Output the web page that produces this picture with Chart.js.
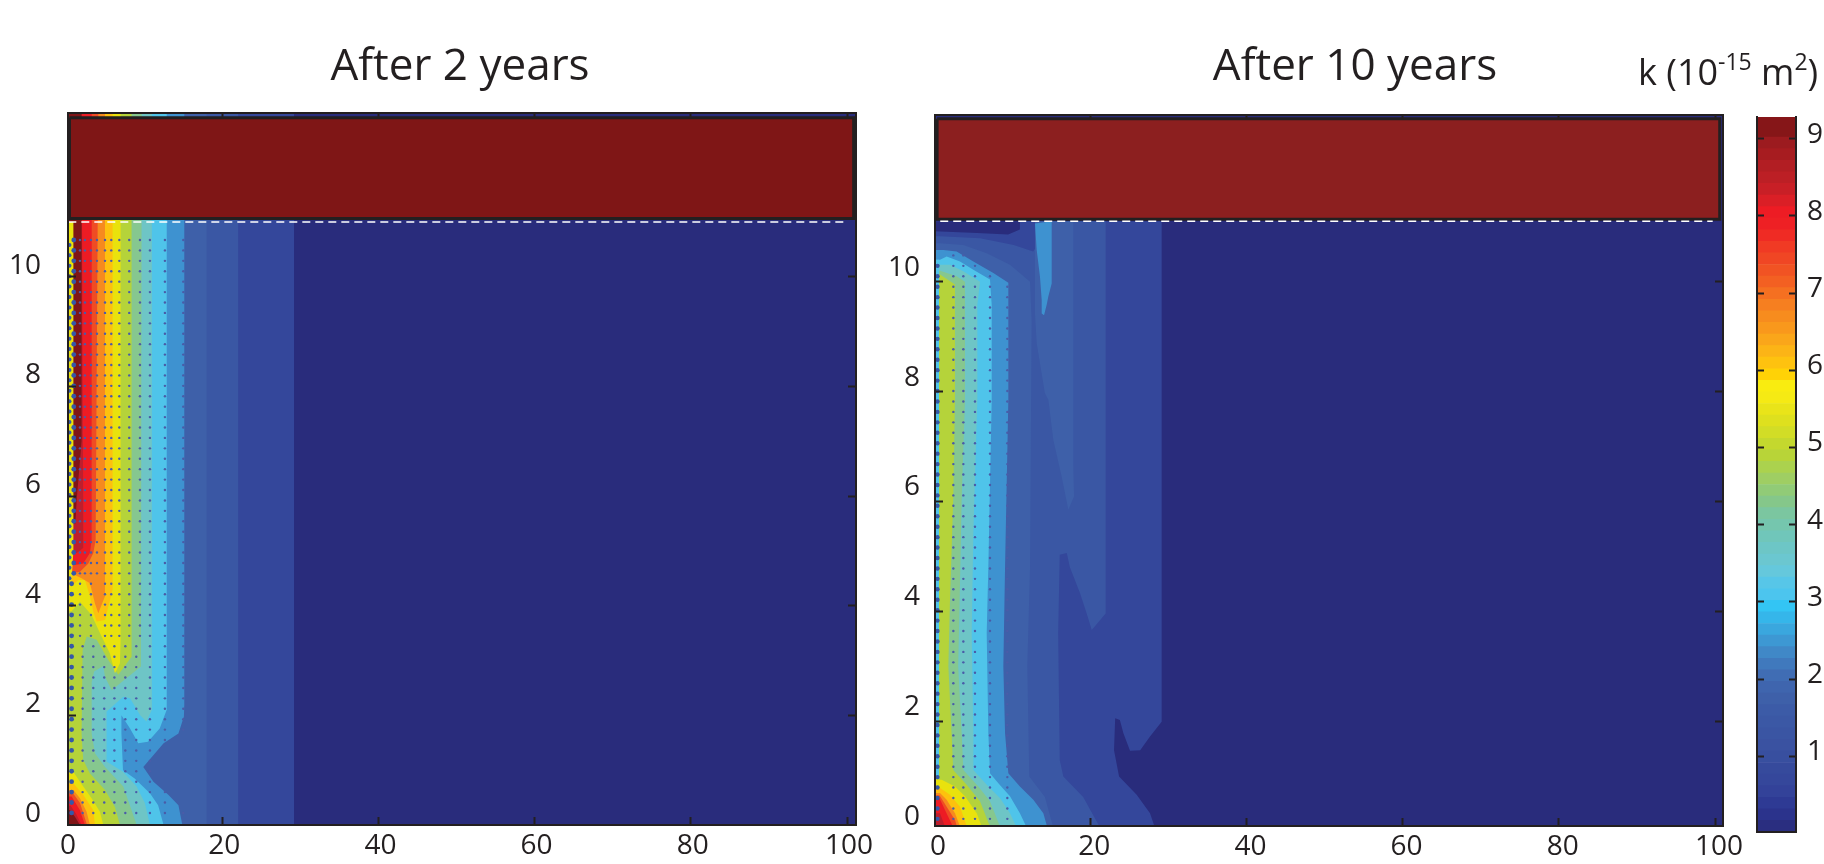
<!DOCTYPE html>
<html lang="en">

<head>
    <meta charset="UTF-8">
    <title>Permeability after 2 and 10 years</title>
    <script src="https://cdn.jsdelivr.net/npm/chart.js"></script>
    <style>
        body { margin: 0; background: #fff; width: 1824px; height: 864px; overflow: hidden; }
        canvas { position: absolute; top: 0; }
        #left-chart { left: 0; }
        #right-chart { left: 886px; }
        #bar-chart { left: 1634px; }
    </style>
</head>

<body>
    <canvas id="left-chart" width="920" height="864"></canvas>
    <canvas id="right-chart" width="938" height="864"></canvas>
    <canvas id="bar-chart" width="190" height="864"></canvas>

    <script>
        // axis ticks
        const xTicks = [0, 20, 40, 60, 80, 100];
        const yTicks = [0, 2, 4, 6, 8, 10];
        const barTicks = [1, 2, 3, 4, 5, 6, 7, 8, 9];
        const titles = ['After 2 years', 'After 10 years'];
        const barTitle = [['k (10', 0], ['-15', 1], [' m', 0], ['2', 1], [')', 0]];

        // contour colours, low k to high k
        const cBlue1 = '#34479B', cBlue2 = '#3A57A4', cBlue3 = '#3E60A9', cBlue4 = '#3E92D0';
        const cSky = '#4FC4EA', cTeal = '#6EC5C6', cGreen = '#86C78F', cLime = '#B5D33A';
        const cYellow = '#E9E20D', cAmber = '#FDC10E', cOrange = '#F68A1F', cRedOrange = '#EF4C24';
        const cRed = '#ED1C24', cCrimson = '#BE1E2D', cMaroon = '#7F1517', cNavy = '#292C7C';

        // after 2 years: right edge of each contour level, top to bottom, as [distance, depth]
        const left1 = [[29.2, 13], [29.2, 0]];
        const left2 = [[22.05, 13], [22.05, 0]];
        const left3 = [[18, 13], [18, 0]];
        const left4 = [[15.15, 13], [15.15, 2.2], [15.1, 1.98], [14.4, 1.67], [12.5, 1.49], [9.9, 1.06], [11.2, 0.79], [13.1, 0.55], [14.4, 0.36], [14.9, 0]];
        const left5 = [[12.9, 13], [12.9, 2.1], [12, 1.76], [10.5, 1.52], [9.26, 1.49], [8.2, 1.76], [7.1, 2], [7.1, 1.67], [7.3, 1], [8.8, 0.85], [10.75, 0.58], [11.8, 0.36], [12.5, 0]];
        const left6 = [[11, 13], [11, 2.1], [10.3, 1.89], [9.5, 2], [8.2, 2.31], [7.34, 2.34], [5.2, 2.07], [5.2, 1.16], [7.3, 0.97], [9.05, 0.7], [10.1, 0.4], [10.75, 0]];
        const left7 = [[9.7, 13], [9.6, 2.89], [7.77, 2.68], [5.85, 2.46], [5, 2.7], [4.78, 2.9], [3.6, 2.8], [3.29, 2.6], [3.29, 1.67], [3.71, 1.31], [5, 1.06], [7.34, 0.7], [8.4, 0.27], [9.05, 0]];
        const left8 = [[8.4, 13], [8.4, 3.07], [6.7, 2.74], [5.42, 3.01], [3.93, 3.38], [2.65, 3.44], [2.13, 3.19], [2, 1.67], [2.2, 1.19], [3.07, 0.94], [5, 0.64], [6.27, 0.33], [6.91, 0]];
        const left9 = [[7, 13], [7, 3.38], [6.91, 2.95], [6.27, 2.77], [5.63, 3.13], [4.35, 3.5], [3.28, 3.83], [1.79, 4.07], [0.72, 3.9], [0, 3.9], [0, 0.97], [0.94, 0.97], [1.79, 0.79], [3.28, 0.49], [4.35, 0.24], [4.78, 0]];
        const left10 = [[5.97, 13], [5.97, 4.29], [5, 3.74], [3.93, 3.71], [3.5, 3.89], [3.07, 4.17], [2.43, 4.47], [1.58, 4.47], [0.94, 4.38], [0, 4.38], [0, 0.76], [0.94, 0.76], [2.2, 0.55], [3.5, 0.27], [3.71, 0]];
        const left11 = [[5, 13], [5, 4.17], [4.14, 3.86], [3.71, 4.04], [3.07, 4.41], [2, 4.5], [1.15, 4.56], [0, 4.56], [0, 0.64], [0.94, 0.64], [1.79, 0.49], [2.64, 0.24], [3.07, 0]];
        const left12 = [[4.15, 13], [3.8, 5.2], [3.5, 4.96], [2.86, 4.77], [1.79, 4.62], [1.15, 4.6], [0, 4.6], [0, 0.58], [0.9, 0.58], [1.8, 0.4], [2.7, 0]];
        const left13 = [[3.3, 13], [3.28, 5.2], [3.07, 4.96], [2.2, 4.77], [1.15, 4.74], [0, 4.74], [0, 0.52], [0.72, 0.52], [1.79, 0.27], [2.43, 0]];
        const left14 = [[2, 13], [2.2, 6], [2.2, 5.05], [1.36, 4.96], [0.72, 4.96], [0, 4.96], [0, 0.35], [0.6, 0.35], [1.3, 0.2], [2, 0]];
        const left15 = [[2, 13], [2, 7], [1.37, 5.93], [1.2, 5.5], [0, 5.5], [0, 0.27], [0.51, 0.27], [1.15, 0.15], [1.79, 0]];
        const leftWall = [[0.95, 11], [0.95, 5], [0.7, 4.4], [0, 4.4]];
        const leftCap = [[0.45, 12.9], [100.85, 12.9], [100.85, 11.06], [0.45, 11.06], [0.45, 12.9]];
        const leftDash = [[0.3, 11], [100, 11]];
        const leftColumns = [1.79, 2.43, 3.2, 3.97, 5, 5.8, 6.83, 8.1, 9.47, 10.75, 12.67, 15.02];
        const leftMidColumns = [1.8, 3.2, 5, 5.8, 6.83, 8.1, 9.47, 10.75, 12.67, 15.02];
        const leftLowColumns = [2.13, 3.5, 4.9, 6.2, 7.6, 9, 10.75, 12.67, 15.02];

        // after 10 years
        const right1 = [[29.15, 11.1], [29.15, 1.99], [27.66, 1.72], [26.4, 1.47], [25.1, 1.46], [24.25, 1.78], [23.8, 2.02], [23.2, 2.05], [23.05, 1.47], [23.7, 0.99], [25.95, 0.66], [27.66, 0.32], [28.43, 0]];
        const right2 = [[21.98, 11.1], [21.98, 3.96], [20.2, 3.66], [19.55, 3.96], [18.7, 4.33], [17.4, 4.8], [17, 5.06], [16.1, 5.03], [15.9, 3.6], [16.1, 1.29], [16.56, 0.99], [19.1, 0.62], [21.5, 0]];
        const rightLens = [[17.84, 11.1], [17.84, 6.64], [17.93, 6.09], [17.2, 5.85], [16.35, 6.45], [15.28, 7.12], [14.64, 7.85], [14.2, 7.97], [13.15, 8.88], [12.93, 9.42], [12.93, 11.1]];
        const right3 = [[0.77, 10.7], [3.76, 10.67], [6.75, 10.52], [9.73, 10.31], [12.3, 10], [12.5, 9.3], [12.3, 4.81], [11.95, 3], [12.2, 0.99], [14.2, 0.62], [15.4, 0]];
        const rightTop = [[0, 11.1], [12.93, 11.1], [12.93, 10.6], [12.7, 10.55], [10.2, 10.67], [5.9, 10.79], [0.77, 10.83], [0, 10.83]];
        const rightNavy = [[0, 11.1], [11, 11.1], [11, 10.95], [9.5, 10.86], [5.5, 10.89], [0, 10.92]];
        const rightTongue = [[15.07, 11.1], [15.07, 9.97], [14.64, 9.73], [14.43, 9.58], [14.09, 9.39], [13.79, 9.42], [13.79, 9.67], [13.57, 10.09], [13.15, 10.58], [12.93, 11.06]];
        const right4 = [[1.2, 10.58], [2.9, 10.55], [5.04, 10.37], [7.6, 10.16], [9.52, 9.98], [9.52, 7.85], [9.1, 4.81], [8.88, 3], [9.1, 1.78], [9.52, 1.05], [11, 0.81], [12.72, 0.57], [14, 0.32], [14.64, 0]];
        const right5 = [[0.77, 10.4], [1.62, 10.46], [3.33, 10.37], [5.04, 10.22], [7.17, 10.04], [7.39, 9.58], [7.39, 7.85], [6.96, 4.81], [6.75, 3.6], [6.96, 1.78], [7.17, 1.05], [8.24, 0.87], [9.73, 0.63], [11, 0.32], [12.08, 0]];
        const right6 = [[2.05, 10.31], [3.76, 10.19], [5.9, 10], [5.55, 9.58], [5.55, 7.85], [5.04, 5.42], [4.83, 3.6], [5.04, 1.78], [5.04, 1.11], [6.75, 0.84], [8.45, 0.6], [9.73, 0.32], [10.8, 0]];
        const right7 = [[0.77, 10.2], [2.9, 10.1], [3.97, 10], [3.97, 7.85], [3.54, 6.03], [3.33, 4.51], [3.1, 3], [3.54, 1.78], [3.76, 1.11], [5.68, 0.81], [7.17, 0.54], [8.67, 0]];
        const right8 = [[0.77, 10.13], [2.69, 9.95], [2.69, 7.85], [2.46, 6.03], [2.05, 4.21], [1.84, 3], [2.25, 1.78], [2.46, 1.11], [4.18, 0.84], [5.89, 0.54], [7.39, 0]];
        const right9 = [[0, 0.93], [0.98, 0.93], [2.69, 0.81], [3.97, 0.63], [5.47, 0.32], [6.32, 0]];
        const right10 = [[0, 0.78], [0.77, 0.78], [2.05, 0.66], [3.33, 0.44], [4.4, 0]];
        const right11 = [[0, 0.69], [0.77, 0.69], [1.62, 0.57], [2.69, 0.32], [3.55, 0]];
        const right12 = [[0, 0.65], [0.7, 0.65], [1.5, 0.47], [2.7, 0.2], [3.1, 0]];
        const right13 = [[0, 0.6], [0.69, 0.6], [1.41, 0.38], [2.69, 0]];
        const right14 = [[0, 0.32], [0.77, 0.32], [1.62, 0]];
        const rightWall = [[0.65, 10.4], [0.65, 0.95], [0, 0.95]];
        const rightCap = [[0.4, 12.97], [100.6, 12.97], [100.6, 11.14], [0.4, 11.14], [0.4, 12.97]];
        const rightDash = [[0.8, 11.1], [99.7, 11.1]];
        const rightColumns = [2.48, 3.76, 5.25, 7.17, 9.39];

        // mesh rows, shared by both panels
        const meshRows = [10.67, 10.48, 10.29, 10.1, 9.91, 9.72, 9.53, 9.34, 9.15, 8.96, 8.77, 8.58, 8.39, 8.2, 8.01, 7.82, 7.63, 7.44, 7.25, 7.06, 6.87, 6.68, 6.49, 6.3, 6.11, 5.92, 5.73, 5.54, 5.35, 5.16, 4.97, 4.78, 4.59, 4.4, 4.21, 4.02, 3.83, 3.64, 3.45, 3.26, 3.07, 2.88, 2.69, 2.5, 2.31, 2.12, 1.93, 1.74, 1.55, 1.36, 1.17, 0.98, 0.79, 0.6, 0.41, 0.22];

        // colour bar bands
        const barEdges = [0.02, 0.17, 0.32, 0.47, 0.62, 0.77, 0.92, 1.07, 1.22, 1.37, 1.52, 1.67, 1.82, 1.97, 2.12, 2.27, 2.42, 2.57, 2.72, 2.87, 3.02, 3.17, 3.32, 3.47, 3.62, 3.77, 3.92, 4.07, 4.22, 4.37, 4.52, 4.67, 4.82, 4.97, 5.12, 5.27, 5.42, 5.57, 5.72, 5.87, 6.02, 6.17, 6.32, 6.47, 6.62, 6.77, 6.92, 7.07, 7.22, 7.37, 7.52, 7.67, 7.82, 7.97, 8.12, 8.27, 8.42, 8.57, 8.72, 8.87, 9.02, 9.28];
        const barColors = ['#2A2E80', '#2B338C', '#2E3A94', '#334299', '#35479B', '#364A9C', '#384F9F', '#3A52A1', '#3A55A3', '#3B58A5', '#3C5BA7', '#3E60A9', '#3F65AE', '#406DB4', '#4079BD', '#4088C7', '#3D98D3', '#3AA7DE', '#35B6EA', '#33C5F4', '#4CC5EE', '#57C6E8', '#65C8DC', '#6BC7D0', '#6DC6C6', '#70C6BA', '#75C6AE', '#7BC6A0', '#85C78A', '#91CB77', '#9FCE63', '#ABD24E', '#B8D438', '#C4D82E', '#D2DD26', '#DEE01E', '#E9E419', '#F5EA14', '#F9EC10', '#FFD206', '#FEC20F', '#FCB416', '#FAA61A', '#F9981C', '#F78C1E', '#F67F20', '#F57021', '#F36022', '#F15323', '#F04624', '#F03A24', '#EF2B24', '#EE2024', '#ED1C24', '#DA1F26', '#C81F26', '#BC1F25', '#B21E23', '#A71C20', '#9C1B1F', '#861618'];

        const ink = '#231F20';
        const fontName = '"Open Sans", sans-serif';
        Chart.defaults.font.family = fontName;
        Chart.defaults.color = ink;
        Chart.defaults.animation = false;

        const toPoints = pts => pts.map(p => ({ x: p[0], y: p[1] }));

        // region left of a contour edge, closed along the wall
        function level(pts, color, top) {
            const closed = pts.concat([[0, 0], [0, top]]);
            return shape(closed, color);
        }

        function shape(pts, color) {
            return {
                data: toPoints(pts), showLine: true, pointRadius: 0, fill: 'shape',
                backgroundColor: color, borderColor: 'transparent', borderWidth: 0
            };
        }

        function cap(pts, color) {
            return {
                data: toPoints(pts), showLine: true, pointRadius: 0, fill: 'shape',
                backgroundColor: color, borderColor: ink, borderWidth: 3
            };
        }

        function dash(pts) {
            return {
                data: toPoints(pts), showLine: true, pointRadius: 0, fill: false,
                borderColor: '#fff', borderWidth: 1.5, borderDash: [8, 5]
            };
        }

        function dots(pts, radius, color) {
            return { data: toPoints(pts), showLine: false, pointRadius: radius, pointBackgroundColor: color, pointBorderWidth: 0 };
        }

        // ray casting, used to keep the mesh dots inside the outer contour
        function inside(poly, x, y) {
            let hit = false;
            for (let i = 0, j = poly.length - 1; i < poly.length; j = i++) {
                const [xi, yi] = poly[i], [xj, yj] = poly[j];
                if ((yi > y) !== (yj > y) && x < (xj - xi) * (y - yi) / (yj - yi) + xi) hit = !hit;
            }
            return hit;
        }

        // columnsFor picks the mesh columns of a row
        function meshDots(columnsFor, outer) {
            const poly = outer.concat([[0, 0], [0, 13]]);
            const pts = [];
            meshRows.forEach(y => columnsFor(y).forEach(x => {
                if (inside(poly, x - 0.6, y)) pts.push([x, y]);
            }));
            return pts;
        }

        // fixed axis gutters, and no extra room for overhanging labels
        const fixed = size => scale => {
            if (scale.isHorizontal()) scale.height = size; else scale.width = size;
            scale.paddingTop = scale.paddingBottom = scale.paddingLeft = scale.paddingRight = 0;
        };
        const setTicks = values => scale => { scale.ticks = values.map(v => ({ value: v })); };
        const tickInk = c => (c.tick && c.tick.value === 0) ? 'transparent' : ink;

        function axis(position, ticks, range, size, label, tickLength) {
            return {
                type: 'linear', position: position, min: range[0], max: range[1],
                afterFit: fixed(size), afterBuildTicks: setTicks(ticks),
                border: { color: ink, width: 2, z: 1 },
                grid: { drawOnChartArea: false, tickLength: tickLength, tickWidth: 2, tickColor: tickInk, z: 1 },
                ticks: label || { display: false }
            };
        }

        function panel(id, title, datasets, box) {
            const tickFont = { size: 28 };
            new Chart(document.getElementById(id), {
                type: 'scatter',
                data: { datasets: datasets.map((d, i) => Object.assign({ order: -i }, d)) },
                options: {
                    responsive: false,
                    layout: { autoPadding: false },
                    plugins: {
                        legend: { display: false },
                        tooltip: { enabled: false },
                        title: {
                            display: true, text: title,
                            font: { size: 44, weight: 'normal', lineHeight: 1.2 },
                            color: ink, padding: box.titlePad
                        }
                    },
                    scales: {
                        x: axis('bottom', xTicks, box.x, box.bottom, {
                            font: tickFont, padding: 12, labelOffset: box.xLabelOffset, maxRotation: 0, autoSkip: false
                        }, -8),
                        x2: axis('top', xTicks, box.x, 0, null, -4),
                        y: axis('left', yTicks, box.y, box.left, {
                            font: tickFont, padding: 8 + box.labelGap, labelOffset: box.yLabelOffset, autoSkip: false
                        }, -8),
                        y2: axis('right', yTicks, box.y, box.right, null, -8)
                    }
                }
            });
        }

        const leftColumnsFor = y => y > 4.5 ? leftColumns : (y > 3.4 ? leftMidColumns : leftLowColumns);

        panel('left-chart', titles[0], [
            shape([[0, 0], [0, 13], [102, 13], [102, 0]], cNavy),
            level(left1, cBlue1, 13), level(left2, cBlue2, 13), level(left3, cBlue3, 13),
            level(left4, cBlue4, 13), level(left5, cSky, 13), level(left6, cTeal, 13),
            level(left7, cGreen, 13), level(left8, cLime, 13), level(left9, cYellow, 13),
            level(left10, cAmber, 13), level(left11, cOrange, 13), level(left12, cRedOrange, 13),
            level(left13, cRed, 13), level(left14, cCrimson, 13), level(left15, cMaroon, 13),
            shape(leftWall.concat([[0, 11]]), cYellow),
            dots(meshDots(leftColumnsFor, left4), 1.2, '#4A5CA8'),
            dots(meshRows.map(y => [y > 4.5 ? 1.0 : 0.72, y]), 2.4, '#3558A8'),
            dots(meshRows.filter(y => y > 4.5).map(y => [0.45, y - 0.09]), 2, '#3558A8'),
            cap(leftCap, '#7F1616'),
            dash(leftDash)
        ], {
            x: [0.26, 101.15], y: [0, 12.99], left: 68, right: 64, bottom: 39,
            titlePad: { top: 41, bottom: 19 }, labelGap: 27, xLabelOffset: 2, yLabelOffset: -11
        });

        panel('right-chart', titles[1], [
            shape([[0, 0], [0, 13.1], [102, 13.1], [102, 0]], cNavy),
            level(right1, cBlue1, 11.1), level(right2, cBlue2, 11.1), shape(rightLens, cBlue3),
            level(right3, cBlue3, 10.7), shape(rightTop, cBlue1), shape(rightNavy, cNavy), shape(rightTongue, cBlue4),
            level(right4, cBlue4, 10.58), level(right5, cSky, 10.4), level(right6, cTeal, 10.31),
            level(right7, cGreen, 10.2), level(right8, cLime, 10.13),
            level(right9, cYellow, 0.93), level(right10, cAmber, 0.78), level(right11, cOrange, 0.69),
            level(right12, cRedOrange, 0.65), level(right13, cRed, 0.6), level(right14, cCrimson, 0.32),
            shape(rightWall.concat([[0, 10.4]]), cSky),
            dots(meshDots(() => rightColumns, right4), 1.2, '#4A5CA8'),
            dots(meshRows.filter(y => y < 10.3).map(y => [0.45, y]), 2.2, '#3558A8'),
            cap(rightCap, '#8C1F1F'),
            dash(rightDash)
        ], {
            x: [0.13, 101.02], y: [0.09, 13.04], left: 49, right: 101, bottom: 38,
            titlePad: { top: 41, bottom: 21 }, labelGap: 15, xLabelOffset: 4, yLabelOffset: -14
        });

        // k (10^-15 m^2) with raised exponents
        const barTitlePlugin = {
            id: 'barTitle',
            afterDraw: chart => {
                const c = chart.ctx;
                let x = 4;
                c.save();
                c.fillStyle = ink;
                c.textBaseline = 'alphabetic';
                barTitle.forEach(([text, raised]) => {
                    c.font = (raised ? '23px ' : '36px ') + fontName;
                    c.fillText(text, x, raised ? 70 : 85);
                    x += c.measureText(text).width;
                });
                c.restore();
            }
        };

        new Chart(document.getElementById('bar-chart'), {
            type: 'bar',
            data: {
                labels: ['k'],
                datasets: barColors.map((color, i) => ({
                    data: [[barEdges[i], barEdges[i + 1]]], backgroundColor: color,
                    barPercentage: 1, categoryPercentage: 1, grouped: false, yAxisID: 'y', borderWidth: 0
                }))
            },
            plugins: [barTitlePlugin],
            options: {
                responsive: false,
                layout: { autoPadding: false, padding: { top: 117 } },
                plugins: { legend: { display: false }, tooltip: { enabled: false } },
                scales: {
                    x: {
                        afterFit: fixed(32), border: { color: ink, width: 2, z: 1 },
                        grid: { display: false }, ticks: { display: false }
                    },
                    y: axis('left', barTicks, [0.02, 9.28], 123, null, -7),
                    y2: axis('right', barTicks, [0.02, 9.28], 28, {
                        font: { size: 28 }, padding: 18, labelOffset: -4, autoSkip: false
                    }, -7)
                }
            }
        });
    </script>
</body>

</html>
